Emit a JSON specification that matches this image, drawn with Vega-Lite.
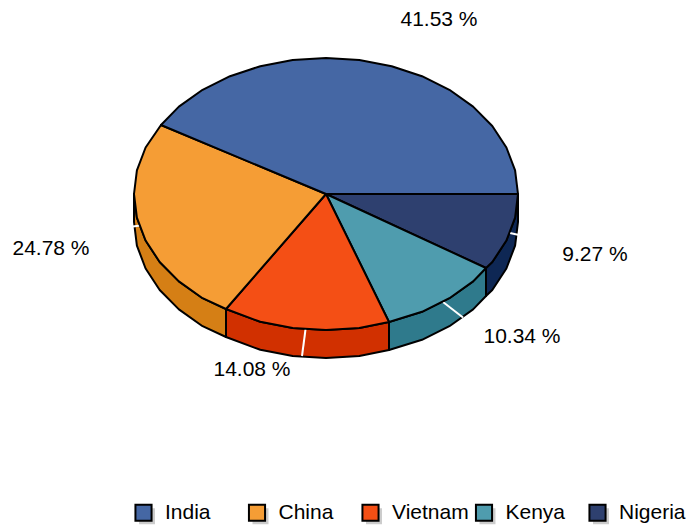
{"$schema":"https://vega.github.io/schema/vega-lite/v6.json","width":686,"height":525,"padding":0,"autosize":{"type":"none"},"background":"white","view":{"stroke":null},
"config":{"font":"Liberation Sans"},
"datasets":{
"top":[
{"slice":"Nigeria","i":0,"x":326,"y":194},{"slice":"Nigeria","i":1,"x":518,"y":194},{"slice":"Nigeria","i":2,"x":515.1,"y":217.6},{"slice":"Nigeria","i":3,"x":506.4,"y":240.5},{"slice":"Nigeria","i":4,"x":492.3,"y":262},{"slice":"Nigeria","i":5,"x":486,"y":268},{"slice":"Nigeria","i":6,"x":326,"y":194},
{"slice":"Kenya","i":0,"x":326,"y":194},{"slice":"Kenya","i":1,"x":486,"y":268},{"slice":"Kenya","i":2,"x":473.1,"y":281.4},{"slice":"Kenya","i":3,"x":449.4,"y":298.2},{"slice":"Kenya","i":4,"x":422,"y":311.8},{"slice":"Kenya","i":5,"x":389,"y":322},{"slice":"Kenya","i":6,"x":326,"y":194},
{"slice":"Vietnam","i":0,"x":326,"y":194},{"slice":"Vietnam","i":1,"x":389,"y":322},{"slice":"Vietnam","i":2,"x":359.3,"y":328},{"slice":"Vietnam","i":3,"x":326,"y":330},{"slice":"Vietnam","i":4,"x":292.7,"y":328},{"slice":"Vietnam","i":5,"x":260.3,"y":321.8},{"slice":"Vietnam","i":6,"x":226,"y":309},{"slice":"Vietnam","i":7,"x":326,"y":194},
{"slice":"China","i":0,"x":326,"y":194},{"slice":"China","i":1,"x":226,"y":309},{"slice":"China","i":2,"x":202.6,"y":298.2},{"slice":"China","i":3,"x":178.9,"y":281.4},{"slice":"China","i":4,"x":159.7,"y":262},{"slice":"China","i":5,"x":145.6,"y":240.5},{"slice":"China","i":6,"x":136.9,"y":217.6},{"slice":"China","i":7,"x":134,"y":194},{"slice":"China","i":8,"x":136.9,"y":170.4},{"slice":"China","i":9,"x":145.6,"y":147.5},{"slice":"China","i":10,"x":161,"y":125},{"slice":"China","i":11,"x":326,"y":194},
{"slice":"India","i":0,"x":326,"y":194},{"slice":"India","i":1,"x":161,"y":125},{"slice":"India","i":2,"x":178.9,"y":106.6},{"slice":"India","i":3,"x":202.6,"y":89.8},{"slice":"India","i":4,"x":230,"y":76.2},{"slice":"India","i":5,"x":260.3,"y":66.2},{"slice":"India","i":6,"x":292.7,"y":60},{"slice":"India","i":7,"x":326,"y":58},{"slice":"India","i":8,"x":359.3,"y":60},{"slice":"India","i":9,"x":391.7,"y":66.2},{"slice":"India","i":10,"x":422,"y":76.2},{"slice":"India","i":11,"x":449.4,"y":89.8},{"slice":"India","i":12,"x":473.1,"y":106.6},{"slice":"India","i":13,"x":492.3,"y":126},{"slice":"India","i":14,"x":506.4,"y":147.5},{"slice":"India","i":15,"x":515.1,"y":170.4},{"slice":"India","i":16,"x":518,"y":194},{"slice":"India","i":17,"x":326,"y":194}
],
"side":[
{"slice":"Nigeria","i":0,"x":518,"y":194},{"slice":"Nigeria","i":1,"x":515.1,"y":217.6},{"slice":"Nigeria","i":2,"x":506.4,"y":240.5},{"slice":"Nigeria","i":3,"x":492.3,"y":262},{"slice":"Nigeria","i":4,"x":486,"y":268},{"slice":"Nigeria","i":5,"x":486,"y":296},{"slice":"Nigeria","i":6,"x":492.3,"y":290},{"slice":"Nigeria","i":7,"x":506.4,"y":268.5},{"slice":"Nigeria","i":8,"x":515.1,"y":245.6},{"slice":"Nigeria","i":9,"x":518,"y":222},{"slice":"Nigeria","i":10,"x":518,"y":194},
{"slice":"Kenya","i":0,"x":486,"y":268},{"slice":"Kenya","i":1,"x":473.1,"y":281.4},{"slice":"Kenya","i":2,"x":449.4,"y":298.2},{"slice":"Kenya","i":3,"x":422,"y":311.8},{"slice":"Kenya","i":4,"x":389,"y":322},{"slice":"Kenya","i":5,"x":389,"y":350},{"slice":"Kenya","i":6,"x":422,"y":339.8},{"slice":"Kenya","i":7,"x":449.4,"y":326.2},{"slice":"Kenya","i":8,"x":473.1,"y":309.4},{"slice":"Kenya","i":9,"x":486,"y":296},{"slice":"Kenya","i":10,"x":486,"y":268},
{"slice":"Vietnam","i":0,"x":389,"y":322},{"slice":"Vietnam","i":1,"x":359.3,"y":328},{"slice":"Vietnam","i":2,"x":326,"y":330},{"slice":"Vietnam","i":3,"x":292.7,"y":328},{"slice":"Vietnam","i":4,"x":260.3,"y":321.8},{"slice":"Vietnam","i":5,"x":226,"y":309},{"slice":"Vietnam","i":6,"x":226,"y":337},{"slice":"Vietnam","i":7,"x":260.3,"y":349.8},{"slice":"Vietnam","i":8,"x":292.7,"y":356},{"slice":"Vietnam","i":9,"x":326,"y":358},{"slice":"Vietnam","i":10,"x":359.3,"y":356},{"slice":"Vietnam","i":11,"x":389,"y":350},{"slice":"Vietnam","i":12,"x":389,"y":322},
{"slice":"China","i":0,"x":226,"y":309},{"slice":"China","i":1,"x":202.6,"y":298.2},{"slice":"China","i":2,"x":178.9,"y":281.4},{"slice":"China","i":3,"x":159.7,"y":262},{"slice":"China","i":4,"x":145.6,"y":240.5},{"slice":"China","i":5,"x":136.9,"y":217.6},{"slice":"China","i":6,"x":134,"y":194},{"slice":"China","i":7,"x":134,"y":222},{"slice":"China","i":8,"x":136.9,"y":245.6},{"slice":"China","i":9,"x":145.6,"y":268.5},{"slice":"China","i":10,"x":159.7,"y":290},{"slice":"China","i":11,"x":178.9,"y":309.4},{"slice":"China","i":12,"x":202.6,"y":326.2},{"slice":"China","i":13,"x":226,"y":337},{"slice":"China","i":14,"x":226,"y":309}
],
"leader":[
{"slice":"China","i":0,"x":133,"y":226.5},{"slice":"China","i":1,"x":140,"y":225.5},
{"slice":"Vietnam","i":0,"x":305.7,"y":328},{"slice":"Vietnam","i":1,"x":302,"y":356},
{"slice":"Kenya","i":0,"x":443,"y":302},{"slice":"Kenya","i":1,"x":463,"y":317.5},
{"slice":"Nigeria","i":0,"x":510,"y":233},{"slice":"Nigeria","i":1,"x":519,"y":235}
],
"labels":[
{"slice":"India","share":"41.53 %","x":439,"y":20},
{"slice":"China","share":"24.78 %","x":51,"y":249},
{"slice":"Vietnam","share":"14.08 %","x":252,"y":370},
{"slice":"Kenya","share":"10.34 %","x":522,"y":337},
{"slice":"Nigeria","share":"9.27 %","x":595,"y":255}
]},
"layer":[
{"data":{"name":"top"},"mark":{"type":"line","strokeWidth":0},
"encoding":{"x":{"field":"x","type":"quantitative","scale":{"domain":[0,686]},"axis":null},"y":{"field":"y","type":"quantitative","scale":{"domain":[525,0]},"axis":null},"order":{"field":"i"},
"stroke":{"field":"slice","type":"nominal","scale":{"domain":["India","China","Vietnam","Kenya","Nigeria"],"range":["#cccccc","#cccccc","#cccccc","#cccccc","#cccccc"]},
"legend":{"title":null,"orient":"none","legendX":139,"legendY":508,"direction":"horizontal","columns":5,"gridAlign":"all","symbolType":"square","symbolSize":49,"symbolStrokeWidth":9,"labelExpr":"''","labelOffset":0,"labelFontSize":1,"columnPadding":69.5,"padding":0,"encoding":{"symbols":{"update":{"strokeWidth":{"value":9},"opacity":{"value":1}}}}}}}},
{"data":{"name":"side"},"mark":{"type":"line","stroke":"black","strokeWidth":2,"strokeJoin":"round"},
"encoding":{"x":{"field":"x","type":"quantitative","scale":{"domain":[0,686]},"axis":null},"y":{"field":"y","type":"quantitative","scale":{"domain":[525,0]},"axis":null},"order":{"field":"i"},
"fill":{"field":"slice","type":"nominal","legend":null,"scale":{"domain":["China","Vietnam","Kenya","Nigeria"],"range":["#d57f15","#d13000","#2f7a8c","#0e2754"]}}}},
{"data":{"name":"leader"},"mark":{"type":"line","stroke":"white","strokeWidth":2},
"encoding":{"x":{"field":"x","type":"quantitative","scale":{"domain":[0,686]},"axis":null},"y":{"field":"y","type":"quantitative","scale":{"domain":[525,0]},"axis":null},"order":{"field":"i"},"detail":{"field":"slice"}}},
{"data":{"name":"top"},"mark":{"type":"line","stroke":"black","strokeWidth":2,"strokeJoin":"round"},
"encoding":{"x":{"field":"x","type":"quantitative","scale":{"domain":[0,686]},"axis":null},"y":{"field":"y","type":"quantitative","scale":{"domain":[525,0]},"axis":null},"order":{"field":"i"},
"fill":{"field":"slice","type":"nominal","scale":{"domain":["India","China","Vietnam","Kenya","Nigeria"],"range":["#4567a4","#f59d35","#f44f15","#4f9cae","#2e406f"]},
"legend":{"title":null,"orient":"none","legendX":133,"legendY":502,"direction":"horizontal","columns":5,"gridAlign":"all","symbolType":"square","symbolSize":260,"symbolStrokeColor":"black","symbolStrokeWidth":2,"symbolOpacity":1,"labelFont":"Liberation Sans","labelFontSize":21,"labelColor":"black","labelOffset":11,"columnPadding":2.5,"labelLimit":200,"padding":0}}}},
{"data":{"name":"labels"},"mark":{"type":"text","font":"Liberation Sans","fontSize":21,"color":"black","align":"center","baseline":"middle"},
"encoding":{"x":{"field":"x","type":"quantitative","scale":{"domain":[0,686]},"axis":null},"y":{"field":"y","type":"quantitative","scale":{"domain":[525,0]},"axis":null},"text":{"field":"share"}}}
],
"resolve":{"scale":{"fill":"independent","stroke":"independent"},"legend":{"fill":"independent","stroke":"independent"}}
}
